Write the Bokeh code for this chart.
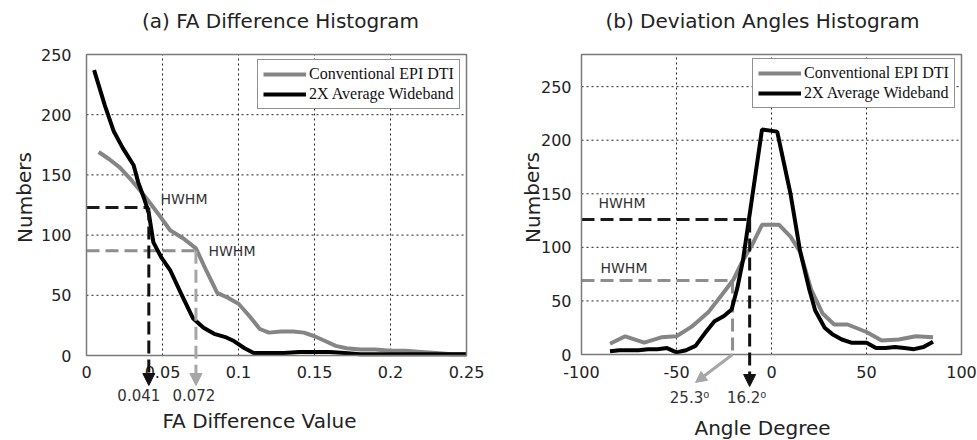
from bokeh.plotting import figure
from bokeh.layouts import row
from bokeh.models import (Range1d, Legend, LegendItem, Arrow, NormalHead, Label,
                          FixedTicker, LinearAxis)
from bokeh.embed import file_html
from bokeh.resources import INLINE

# ---- (a) FA difference histogram ----
fa_conv_x = [0.008, 0.015, 0.022, 0.030, 0.036, 0.041, 0.047, 0.055, 0.064, 0.072,
             0.079, 0.086, 0.093, 0.100, 0.107, 0.114, 0.120, 0.128, 0.136, 0.143,
             0.150, 0.157, 0.164, 0.171, 0.180, 0.190, 0.200, 0.210, 0.220, 0.230,
             0.240, 0.250]
fa_conv_y = [169, 163, 156, 145, 136, 128, 118, 104, 97, 89,
             70, 52, 48, 43, 33, 22, 19, 20, 20, 19,
             16, 12, 8, 6, 5, 5, 4, 4, 3, 2,
             1, 1]
fa_wide_x = [0.005, 0.012, 0.018, 0.024, 0.031, 0.034, 0.038, 0.041, 0.044, 0.049,
             0.055, 0.062, 0.070, 0.077, 0.084, 0.092, 0.097, 0.104, 0.110, 0.120,
             0.130, 0.140, 0.150, 0.160, 0.170, 0.180, 0.190, 0.200, 0.210, 0.220,
             0.230, 0.240, 0.250]
fa_wide_y = [237, 208, 186, 172, 158, 144, 130, 118, 94, 82,
             71, 52, 31, 23, 18, 15, 12, 6, 2, 2,
             2, 3, 3, 3, 2, 1, 1, 1, 1, 1,
             1, 1, 1]
fa_hwhm_x = [0.072, 0.041]          # conventional, wideband
fa_hwhm_y = [87, 123]
fa_hwhm_text = ["0.072", "0.041"]
fa_xlim = (0, 0.25)
fa_ylim = (0, 250)
fa_xticks = [0, 0.05, 0.1, 0.15, 0.2, 0.25]
fa_xtick_labels = ["0", "0.05", "0.1", "0.15", "0.2", "0.25"]
fa_yticks = [0, 50, 100, 150, 200, 250]

# ---- (b) deviation angles histogram ----
ang_conv_x = [-85, -77, -67, -58, -50, -42, -33, -26, -20, -15, -10, -5, 4, 10, 15,
              21, 27, 33, 40, 50, 58, 67, 76, 85]
ang_conv_y = [10, 17, 11, 16, 17, 26, 40, 56, 70, 88, 103, 121, 121, 110, 96,
              60, 38, 28, 28, 21, 13, 14, 17, 16]
ang_wide_x = [-85, -80, -75, -70, -65, -60, -55, -50, -45, -40, -35, -30, -25, -21,
              -18, -15, -5, 3, 10, 15, 20, 23, 28, 32, 37, 42, 50, 55, 60, 65, 70,
              75, 80, 85]
ang_wide_y = [3, 4, 4, 4, 5, 5, 6, 2, 4, 8, 20, 31, 36, 42,
              62, 88, 210, 208, 150, 97, 60, 41, 25, 19, 14, 11, 11, 6, 6, 7, 6,
              5, 7, 12]
ang_hwhm_x = [-20.5, -11.5]         # conventional, wideband
ang_hwhm_y = [69, 126]
ang_hwhm_text = ["25.3\u2070", "16.2\u2070"]
ang_xlim = (-100, 100)
ang_ylim = (0, 280)
ang_xticks = [-100, -50, 0, 50, 100]
ang_xtick_labels = ["-100", "-50", "0", "50", "100"]
ang_yticks = [0, 50, 100, 150, 200, 250]

series_names = ["Conventional EPI DTI", "2X Average Wideband"]

SANS = "DejaVu Sans"
GRAY = "#858585"
GRAY_DASH = "#8e8e8e"
GRAY_ARROW = "#a6a6a6"
INK = "#222222"
DASH = "13 6"
H = 440


class Panel:
    """A figure whose frame fills the canvas; the axes box sits at fixed pixels."""

    def __init__(self, width, box, xlim, ylim):
        self.w = width
        self.box = box
        self.xlim, self.ylim = xlim, ylim
        bl, bt, br, bb = box
        self.sx = (br - bl) / (xlim[1] - xlim[0])
        self.sy = (bb - bt) / (ylim[1] - ylim[0])
        x0 = xlim[0] - bl / self.sx
        x1 = xlim[0] + (width - bl) / self.sx
        y1 = ylim[1] + bt / self.sy
        y0 = ylim[1] - (H - bt) / self.sy
        self.p = figure(width=width, height=H, x_range=Range1d(x0, x1),
                        y_range=Range1d(y0, y1), x_axis_type=None, y_axis_type=None,
                        output_backend="svg", toolbar_location=None, min_border=0,
                        background_fill_color="white", border_fill_color="white",
                        outline_line_color=None)
        self.p.grid.visible = False

    def dx(self, px):
        return self.xlim[0] + (px - self.box[0]) / self.sx

    def dy(self, py):
        return self.ylim[1] - (py - self.box[1]) / self.sy

    def text(self, px, py, txt, size, angle=0, color=INK, align="center", font=SANS):
        self.p.add_layout(Label(x=self.dx(px), y=self.dy(py), text=txt, text_font=font,
                                text_font_size=size, text_color=color, angle=angle,
                                text_align=align, text_baseline="middle"))


def build(panel, xticks, xlabels, yticks, xstand, ystand):
    p = panel.p
    xmin, xmax = panel.xlim
    ymin, ymax = panel.ylim
    # dotted grid inside the axes box
    gx = [t for t in xticks if xmin < t < xmax]
    gy = [t for t in yticks if ymin < t < ymax]
    p.segment(x0=gx, y0=[ymin] * len(gx), x1=gx, y1=[ymax] * len(gx),
              line_color=INK, line_dash="2 3", line_width=1)
    p.segment(x0=[xmin] * len(gy), y0=gy, x1=[xmax] * len(gy), y1=gy,
              line_color=INK, line_dash="2 3", line_width=1)
    xa = LinearAxis(fixed_location=ymin, ticker=FixedTicker(ticks=xticks),
                    bounds=(xmin, xmax),
                    major_label_overrides=dict(zip(xticks, xlabels)))
    ya = LinearAxis(fixed_location=xmin, ticker=FixedTicker(ticks=yticks),
                    bounds=(ymin, ymax))
    for ax in (xa, ya):
        ax.axis_line_color = None
        ax.major_tick_line_color = None
        ax.minor_tick_line_color = None
        ax.major_label_text_font = SANS
        ax.major_label_text_font_size = "16px"
        ax.major_label_text_color = INK
    xa.major_label_standoff = xstand
    ya.major_label_standoff = ystand
    p.add_layout(xa, "below")
    p.add_layout(ya, "left")


def frame_box(panel):
    xmin, xmax = panel.xlim
    ymin, ymax = panel.ylim
    panel.p.quad(left=[xmin], right=[xmax], bottom=[ymin], top=[ymax],
                 fill_color=None, line_color="#7a7a7a", line_width=1.5)


def add_legend(panel, r_conv, r_wide, loc):
    leg = Legend(items=[LegendItem(label=series_names[0], renderers=[r_conv]),
                        LegendItem(label=series_names[1], renderers=[r_wide])],
                 location=loc)
    leg.label_text_font = "Liberation Serif"
    leg.label_text_font_size = "16px"
    leg.label_text_color = "#111111"
    leg.glyph_width = 43
    leg.glyph_height = 18
    leg.label_height = 18
    leg.label_standoff = 3
    leg.spacing = 2
    leg.padding = 5
    leg.margin = 0
    leg.border_line_color = INK
    leg.border_line_width = 1
    leg.background_fill_alpha = 1
    panel.p.add_layout(leg)


# ---------- panel (a) ----------
A = Panel(490, (86, 54, 466, 355), fa_xlim, fa_ylim)
build(A, fa_xticks, fa_xtick_labels, fa_yticks, 4, 9)
pa = A.p

pa.line([fa_xlim[0], fa_hwhm_x[0]], [fa_hwhm_y[0], fa_hwhm_y[0]], line_color=GRAY_DASH,
        line_width=3, line_dash=DASH)
pa.line([fa_xlim[0], fa_hwhm_x[1]], [fa_hwhm_y[1], fa_hwhm_y[1]], line_color="#1a1a1a",
        line_width=3, line_dash=DASH)

ra_conv = pa.line(fa_conv_x, fa_conv_y, line_color=GRAY, line_width=4)
ra_wide = pa.line(fa_wide_x, fa_wide_y, line_color="black", line_width=4)

tip_a = A.dy(385)
for xv, yv, col in [(fa_hwhm_x[0], fa_hwhm_y[0], GRAY_ARROW),
                    (fa_hwhm_x[1], fa_hwhm_y[1], "#111111")]:
    pa.add_layout(Arrow(x_start=xv, y_start=yv, x_end=xv, y_end=tip_a,
                        line_color=col, line_width=3, line_dash=DASH,
                        end=NormalHead(size=12, fill_color=col, line_color=col,
                                       line_width=1)))
pa.add_layout(Label(x=fa_hwhm_x[0], y=A.dy(394), x_offset=-2, text=fa_hwhm_text[0],
                    text_font=SANS, text_font_size="15px", text_color="#333333",
                    text_align="center", text_baseline="middle"))
pa.add_layout(Label(x=fa_hwhm_x[1], y=A.dy(394), x_offset=-10, text=fa_hwhm_text[1],
                    text_font=SANS, text_font_size="15px", text_color="#333333",
                    text_align="center", text_baseline="middle"))

A.text(160, 198, "HWHM", "14px", align="left", color="#333333")
A.text(208, 250, "HWHM", "14px", align="left", color="#333333")
A.text(280, 20, "(a) FA Difference Histogram", "20px")
A.text(259, 420, "FA Difference Value", "20px")
A.text(24, 197, "Numbers", "20px", angle=1.5708)
frame_box(A)
add_legend(A, ra_conv, ra_wide, (257, 331))

# ---------- panel (b) ----------
B = Panel(487, (91, 54, 471, 354), ang_xlim, ang_ylim)
build(B, ang_xticks, ang_xtick_labels, ang_yticks, 5, 4)
pb = B.p

pb.line([ang_xlim[0], ang_hwhm_x[0]], [ang_hwhm_y[0], ang_hwhm_y[0]],
        line_color=GRAY_DASH, line_width=3, line_dash=DASH)
pb.line([ang_xlim[0], ang_hwhm_x[1]], [ang_hwhm_y[1], ang_hwhm_y[1]],
        line_color="#1a1a1a", line_width=3, line_dash=DASH)
pb.line([ang_hwhm_x[0], ang_hwhm_x[0]], [ang_hwhm_y[0], ang_ylim[0]],
        line_color=GRAY_DASH, line_width=3, line_dash=DASH)

rb_conv = pb.line(ang_conv_x, ang_conv_y, line_color=GRAY, line_width=4)
rb_wide = pb.line(ang_wide_x, ang_wide_y, line_color="black", line_width=4)

pb.add_layout(Arrow(x_start=ang_hwhm_x[0], y_start=ang_ylim[0], x_end=B.dx(205),
                    y_end=B.dy(382), line_color=GRAY_ARROW, line_width=3,
                    end=NormalHead(size=11, fill_color=GRAY_ARROW, line_color=GRAY_ARROW,
                                   line_width=1)))
pb.add_layout(Arrow(x_start=ang_hwhm_x[1], y_start=ang_hwhm_y[1], x_end=ang_hwhm_x[1],
                    y_end=B.dy(386), line_color="#111111", line_width=3, line_dash=DASH,
                    end=NormalHead(size=12, fill_color="#111111", line_color="#111111",
                                   line_width=1)))
B.text(199, 397, ang_hwhm_text[0], "15px", color="#333333")
pb.add_layout(Label(x=ang_hwhm_x[1], y=B.dy(397), x_offset=-3, text=ang_hwhm_text[1],
                    text_font=SANS, text_font_size="15px", text_color="#333333",
                    text_align="center", text_baseline="middle"))

B.text(108, 202, "HWHM", "14px", align="left", color="#333333")
B.text(110, 267, "HWHM", "14px", align="left", color="#333333")
B.text(272, 20, "(b) Deviation Angles Histogram", "20px")
B.text(272, 427, "Angle Degree", "20px")
B.text(42, 197, "Numbers", "20px", angle=1.5708)
frame_box(B)
add_legend(B, rb_conv, rb_wide, (262, 332))

layout = row(pa, pb)
open("out.html", "w").write(file_html(layout, INLINE))
